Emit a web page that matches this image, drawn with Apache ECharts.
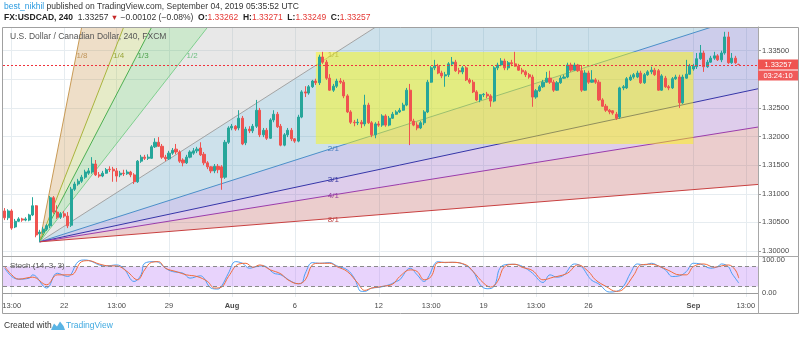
<!DOCTYPE html>
<html>
<head>
<meta charset="utf-8">
<script src="https://cdn.jsdelivr.net/npm/echarts@6/dist/echarts.min.js"></script>
<style>
html,body{margin:0;padding:0;background:#fff;}
#chart{width:800px;height:337px;}
</style>
</head>
<body>
<div id="chart"></div>
<script>
// ---------------- DATA ----------------
const opens = [
1.3070,1.3058,1.3070,1.3042,1.3052,1.3056,1.3054,1.3054,1.3063,1.3079,
1.3030,1.3033,1.3038,1.3044,1.3093,1.3068,1.3059,1.3065,1.3061,1.3045,
1.3108,1.3117,1.3122,1.3129,1.3136,1.3138,1.3152,1.3133,1.3131,1.3136,
1.3143,1.3143,1.3140,1.3133,1.3136,1.3135,1.3138,1.3133,1.3121,1.3157,
1.3164,1.3162,1.3162,1.3182,1.3190,1.3183,1.3164,1.3161,1.3171,1.3178,
1.3173,1.3159,1.3154,1.3164,1.3171,1.3175,1.3180,1.3169,1.3154,1.3147,
1.3140,1.3148,1.3147,1.3129,1.3190,1.3215,1.3218,1.3215,1.3232,1.3189,
1.3213,1.3210,1.3218,1.3246,1.3203,1.3211,1.3197,1.3229,1.3239,1.3218,
1.3185,1.3203,1.3211,1.3196,1.3192,1.3234,1.3278,1.3276,1.3287,1.3297,
1.3294,1.3339,1.3330,1.3302,1.3281,1.3288,1.3297,1.3295,1.3271,1.3243,
1.3225,1.3224,1.3225,1.3222,1.3255,1.3224,1.3203,1.3222,1.3220,1.3236,
1.3220,1.3232,1.3239,1.3243,1.3246,1.3255,1.3281,1.3227,1.3220,1.3215,
1.3224,1.3243,1.3295,1.3320,1.3323,1.3311,1.3306,1.3308,1.3327,1.3330,
1.3315,1.3313,1.3320,1.3299,1.3295,1.3278,1.3264,1.3273,1.3274,1.3271,
1.3262,1.3320,1.3325,1.3332,1.3320,1.3329,1.3327,1.3323,1.3316,1.3313,
1.3308,1.3304,1.3269,1.3280,1.3287,1.3295,1.3302,1.3295,1.3281,1.3294,
1.3302,1.3304,1.3325,1.3316,1.3325,1.3315,1.3281,1.3311,1.3295,1.3299,
1.3295,1.3264,1.3253,1.3246,1.3245,1.3239,1.3234,1.3285,1.3285,1.3299,
1.3304,1.3304,1.3311,1.3294,1.3308,1.3313,1.3316,1.3315,1.3281,1.3302,
1.3287,1.3285,1.3301,1.3304,1.3259,1.3302,1.3309,1.3318,1.3322,1.3336,
1.3346,1.3322,1.3330,1.3337,1.3341,1.3334,1.3346,1.3374,1.3329,1.3337,
1.33262];
const closes = [
1.3058,1.3070,1.3040,1.3052,1.3056,1.3054,1.3056,1.3063,1.3079,1.3028,
1.3033,1.3038,1.3044,1.3093,1.3068,1.3059,1.3065,1.3061,1.3044,1.3108,
1.3117,1.3122,1.3129,1.3138,1.3140,1.3152,1.3133,1.3131,1.3136,1.3142,
1.3142,1.3140,1.3131,1.3136,1.3135,1.3138,1.3133,1.3121,1.3157,1.3164,
1.3162,1.3164,1.3182,1.3190,1.3183,1.3164,1.3161,1.3171,1.3176,1.3173,
1.3157,1.3154,1.3164,1.3173,1.3175,1.3178,1.3168,1.3154,1.3147,1.3140,
1.3148,1.3142,1.3128,1.3190,1.3215,1.3218,1.3213,1.3232,1.3187,1.3213,
1.3210,1.3218,1.3246,1.3203,1.3211,1.3197,1.3229,1.3239,1.3217,1.3185,
1.3203,1.3211,1.3196,1.3192,1.3234,1.3278,1.3276,1.3287,1.3297,1.3294,
1.3339,1.3330,1.3302,1.3281,1.3288,1.3297,1.3295,1.3271,1.3243,1.3225,
1.3224,1.3225,1.3222,1.3255,1.3224,1.3203,1.3222,1.3220,1.3236,1.3220,
1.3232,1.3239,1.3243,1.3246,1.3255,1.3281,1.3227,1.3220,1.3215,1.3224,
1.3243,1.3295,1.3320,1.3323,1.3311,1.3306,1.3308,1.3327,1.3330,1.3315,
1.3313,1.3320,1.3299,1.3295,1.3278,1.3264,1.3273,1.3274,1.3271,1.3262,
1.3320,1.3325,1.3332,1.3320,1.3329,1.3327,1.3323,1.3316,1.3313,1.3308,
1.3304,1.3269,1.3280,1.3287,1.3295,1.3302,1.3295,1.3281,1.3294,1.3302,
1.3304,1.3325,1.3316,1.3325,1.3315,1.3281,1.3311,1.3295,1.3299,1.3295,
1.3264,1.3253,1.3246,1.3243,1.3241,1.3232,1.3285,1.3287,1.3301,1.3304,
1.3308,1.3311,1.3294,1.3308,1.3313,1.3316,1.3308,1.3281,1.3306,1.3287,
1.3285,1.3301,1.3304,1.3259,1.3304,1.3309,1.3323,1.3323,1.3336,1.3346,
1.3322,1.3330,1.3337,1.3341,1.3334,1.3346,1.3374,1.3329,1.3337,1.3329,
1.33257];
const lows = [
1.3054,1.3054,1.3037,1.3040,1.3051,1.3051,1.3052,1.3052,1.3061,1.3024,
1.3016,1.3030,1.3035,1.3040,1.3065,1.3056,1.3056,1.3058,1.3040,1.3042,
1.3105,1.3114,1.3119,1.3126,1.3133,1.3135,1.3131,1.3128,1.3129,1.3135,
1.3138,1.3121,1.3121,1.3129,1.3131,1.3133,1.3129,1.3117,1.3119,1.3154,
1.3159,1.3159,1.3161,1.3180,1.3182,1.3161,1.3157,1.3159,1.3168,1.3169,
1.3154,1.3148,1.3152,1.3162,1.3168,1.3171,1.3166,1.3150,1.3143,1.3136,
1.3136,1.3136,1.3107,1.3126,1.3187,1.3211,1.3210,1.3211,1.3185,1.3185,
1.3206,1.3206,1.3215,1.3199,1.3199,1.3194,1.3196,1.3225,1.3215,1.3183,
1.3183,1.3199,1.3192,1.3189,1.3190,1.3232,1.3269,1.3273,1.3285,1.3290,
1.3290,1.3327,1.3299,1.3280,1.3278,1.3285,1.3292,1.3267,1.3241,1.3222,
1.3218,1.3220,1.3215,1.3218,1.3222,1.3199,1.3197,1.3217,1.3217,1.3217,
1.3218,1.3231,1.3238,1.3241,1.3245,1.3253,1.3185,1.3218,1.3211,1.3213,
1.3220,1.3241,1.3294,1.3316,1.3309,1.3302,1.3287,1.3304,1.3323,1.3313,
1.3309,1.3309,1.3297,1.3292,1.3276,1.3262,1.3260,1.3269,1.3267,1.3252,
1.3260,1.3316,1.3323,1.3316,1.3316,1.3323,1.3322,1.3315,1.3309,1.3304,
1.3301,1.3252,1.3266,1.3278,1.3285,1.3294,1.3292,1.3278,1.3280,1.3292,
1.3301,1.3302,1.3313,1.3315,1.3313,1.3278,1.3280,1.3292,1.3294,1.3292,
1.3262,1.3252,1.3243,1.3239,1.3238,1.3229,1.3231,1.3281,1.3283,1.3297,
1.3301,1.3302,1.3292,1.3292,1.3306,1.3309,1.3306,1.3280,1.3280,1.3285,
1.3281,1.3283,1.3299,1.3250,1.3257,1.3301,1.3308,1.3315,1.3318,1.3334,
1.3313,1.3320,1.3329,1.3334,1.3332,1.3330,1.3343,1.3327,1.3327,1.3327,
1.33249];
const highs = [
1.3075,1.3073,1.3073,1.3056,1.3059,1.3058,1.3059,1.3065,1.3094,1.3080,
1.3037,1.3042,1.3047,1.3096,1.3096,1.3080,1.3068,1.3070,1.3068,1.3112,
1.3121,1.3126,1.3133,1.3142,1.3145,1.3164,1.3159,1.3138,1.3140,1.3145,
1.3148,1.3147,1.3145,1.3140,1.3142,1.3142,1.3140,1.3136,1.3159,1.3168,
1.3168,1.3169,1.3185,1.3197,1.3199,1.3187,1.3168,1.3175,1.3180,1.3187,
1.3176,1.3162,1.3168,1.3176,1.3180,1.3182,1.3190,1.3173,1.3157,1.3148,
1.3152,1.3152,1.3150,1.3194,1.3218,1.3222,1.3220,1.3246,1.3236,1.3217,
1.3218,1.3222,1.3264,1.3250,1.3215,1.3215,1.3232,1.3246,1.3243,1.3222,
1.3206,1.3215,1.3215,1.3197,1.3238,1.3281,1.3288,1.3290,1.3299,1.3301,
1.3343,1.3348,1.3334,1.3309,1.3292,1.3301,1.3302,1.3299,1.3274,1.3246,
1.3229,1.3231,1.3229,1.3273,1.3259,1.3227,1.3225,1.3227,1.3239,1.3239,
1.3236,1.3243,1.3246,1.3250,1.3259,1.3285,1.3292,1.3231,1.3225,1.3227,
1.3246,1.3299,1.3323,1.3334,1.3327,1.3315,1.3313,1.3330,1.3339,1.3334,
1.3320,1.3323,1.3323,1.3302,1.3299,1.3281,1.3274,1.3276,1.3278,1.3274,
1.3323,1.3329,1.3337,1.3336,1.3332,1.3334,1.3348,1.3327,1.3320,1.3316,
1.3311,1.3308,1.3283,1.3290,1.3299,1.3313,1.3315,1.3299,1.3297,1.3306,
1.3308,1.3329,1.3329,1.3329,1.3327,1.3325,1.3316,1.3315,1.3316,1.3302,
1.3299,1.3267,1.3257,1.3248,1.3246,1.3243,1.3287,1.3290,1.3304,1.3308,
1.3311,1.3315,1.3315,1.3311,1.3316,1.3322,1.3320,1.3318,1.3309,1.3306,
1.3290,1.3304,1.3308,1.3308,1.3308,1.3334,1.3327,1.3327,1.3346,1.3360,
1.3350,1.3334,1.3341,1.3348,1.3344,1.3350,1.3383,1.3383,1.3346,1.3341,
1.33271];

// Stochastic (14,3,3): %K and %D, read at the candle slots given
const kIdx = [0,2,4,7,8,12,15,18,21,23,25,27,29,32,34,37,39,40,43,44,46,48,51,53,56,57,59,61,62,64,66,68,70,72,74,77,79,82,84,85,86,88,90,93,95,98,100,102,103,105,107,110,112,113,116,118,120,121,124,126,128,131,134,136,138,140,142,145,147,149,151,154,156,158,160,163,165,167,168,170,173,175,177,179,181,183,185,187,189,191,193,195,197,199,202,204,205,207,208,209,210];
const kVal = [75,50,42,45,55,15,60,50,95,100,95,85,82,85,75,35,55,90,95,93,75,65,60,45,52,45,15,12,20,60,95,90,75,80,82,60,55,35,28,30,60,92,90,92,82,70,45,5,5,15,17,25,35,40,75,55,35,45,95,92,93,88,65,25,13,20,80,87,85,75,60,32,55,48,55,88,80,50,38,27,3,5,20,60,88,85,90,82,70,50,52,65,90,88,75,80,88,80,60,45,30];
const dIdx = [0,2,4,8,12,15,19,22,24,27,30,32,35,38,40,42,44,46,49,52,55,58,60,62,64,67,69,71,73,76,79,81,84,86,88,90,93,95,98,101,103,105,108,111,113,116,118,120,122,124,128,132,134,137,139,141,143,146,148,151,154,157,158,161,164,167,169,172,175,177,180,182,185,187,190,193,195,197,200,203,205,207,209,210];
const dVal = [80,55,42,48,25,55,55,95,98,88,82,82,65,40,70,93,95,75,65,55,50,35,15,18,50,88,90,78,85,70,58,40,28,40,85,90,90,80,65,30,8,15,20,27,50,70,65,40,50,92,93,85,65,30,18,35,80,87,78,68,40,48,50,60,85,65,40,20,5,12,55,85,87,82,68,55,55,80,88,78,82,85,70,45];

// time axis labels (4h candle slots)
const tickIdx  = [2, 17, 32, 47, 65, 83, 107, 122, 137, 152, 167, 197, 212];
const tickText = ['13:00','22','13:00','29','Aug','6','12','13:00','19','13:00','26','Sep','13:00'];
const boldTicks = ['Aug','Sep'];
const N_SLOTS = 216;

const lastClose = 1.33257;
const countdown = '03:24:10';

// Gann fan drawing (origin & 1/1 anchor) and rectangle, in data units
const fanNames = ['1/8','1/4','1/3','1/2','1/1','2/1','3/1','4/1','8/1'];
const fanOrigin = [10, 1.3016];
const fanAnchor = [94, 1.3344];
const boxSlots = [89, 197];
const boxPrices = [1.31870, 1.33477];

// ---------------- STYLE ----------------
const FONT = '"Liberation Sans", Arial, sans-serif';
const GRID_C = '#e6ecf0';
const fanLineColors  = ['#c89a55','#a9b43c','#4caf50','#7fcf8f','#a3a3a3','#4a8fc8','#3535a8','#9a3cac','#c84040'];
const fanLabelColors = ['#c0955a','#9aa63c','#4ca04c','#6cbf80','#8f8f78','#4a7fc0','#3a3aa0','#94409f','#c04848'];
const fanFills = ['rgba(198,145,72,0.30)','rgba(172,188,72,0.30)','rgba(88,178,88,0.30)','rgba(178,178,178,0.30)',
                  'rgba(88,155,188,0.30)','rgba(88,88,188,0.30)','rgba(145,88,188,0.30)','rgba(188,88,88,0.30)'];

// ---------------- BUILD ----------------
const categories = Array.from({length: N_SLOTS}, (_, i) => String(i));
const ohlc = opens.map((o, i) => [o, closes[i], lows[i], highs[i]]);
const tickMap = {};
tickIdx.forEach((t, i) => tickMap[t] = tickText[i]);
const isTick = (idx) => tickMap[idx] !== undefined;

const Y_MIN = 1.299126, Y_MAX = 1.339141;

function renderFan(params, api) {
  const o = api.coord(fanOrigin), e = api.coord(fanAnchor);
  const DX = e[0] - o[0], DY = e[1] - o[1];
  const ends = fanNames.map(n => { const [a, b] = n.split('/').map(Number); return [o[0] + DX / b, o[1] + DY / a]; });
  const far = ends.map(p => [o[0] + (p[0] - o[0]) * 15, o[1] + (p[1] - o[1]) * 15]);
  const cs = params.coordSys;
  const clipped = [];
  for (let j = 0; j < far.length - 1; j++) {
    clipped.push({type: 'polygon', shape: {points: [o, far[j], far[j + 1]]}, style: {fill: fanFills[j]}, silent: true});
  }
  far.forEach((p, j) => clipped.push({type: 'line', shape: {x1: o[0], y1: o[1], x2: p[0], y2: p[1]},
    style: {stroke: fanLineColors[j], lineWidth: 1}, silent: true}));
  const labels = ends.map((p, j) => {
    const [a, b] = fanNames[j].split('/').map(Number);
    const steep = b > 1;
    return {type: 'text', x: p[0], y: steep ? p[1] + 2 : p[1] + 1, silent: true,
      style: {text: fanNames[j], fill: fanLabelColors[j], fontSize: 8, fontFamily: FONT, align: steep ? 'left' : 'center', verticalAlign: 'middle'}};
  });
  return {type: 'group', children: [
    {type: 'group', clipPath: {type: 'rect', shape: {x: cs.x, y: cs.y, width: cs.width, height: cs.height}}, children: clipped},
    ...labels]};
}
function renderBox(params, api) {
  const p1 = api.coord([boxSlots[0], boxPrices[1]]), p2 = api.coord([boxSlots[1], boxPrices[0]]);
  return {type: 'rect', shape: {x: p1[0], y: p1[1], width: p2[0] - p1[0], height: p2[1] - p1[1]},
    style: {fill: 'rgba(255,250,0,0.45)'}, silent: true};
}
function renderLastLine(params, api) {
  const cs = params.coordSys;
  const y = Math.round(api.coord([0, api.value(1)])[1]) + 0.5;
  return {type: 'line', shape: {x1: cs.x, y1: y, x2: cs.x + cs.width, y2: y},
    style: {stroke: '#f0323c', lineWidth: 1, lineDash: [2, 2], fill: null}, silent: true};
}

const chart = echarts.init(document.getElementById('chart'), null, {renderer: 'canvas'});
const option = {
  animation: false,
  backgroundColor: '#ffffff',
  textStyle: {fontFamily: FONT},
  grid: [
    {left: 3, top: 27, width: 755, height: 229, containLabel: false, outerBoundsMode: 'none'},
    {left: 3, top: 256, width: 755, height: 41, containLabel: false, outerBoundsMode: 'none'}
  ],
  xAxis: [
    {gridIndex: 0, type: 'category', data: categories, boundaryGap: true,
     axisLine: {show: false}, axisTick: {show: false}, axisLabel: {show: false},
     splitLine: {show: true, interval: isTick, alignWithLabel: true, lineStyle: {color: GRID_C, width: 1}}},
    {gridIndex: 1, type: 'category', data: categories, boundaryGap: true,
     axisLine: {show: true, lineStyle: {color: '#9b9b9b'}}, axisTick: {show: false},
     axisLabel: {show: true, interval: isTick, margin: 5, fontSize: 7.5, color: '#4a4a4a',
       formatter: (v, i) => { const t = tickMap[i] || ''; return boldTicks.includes(t) ? '{b|' + t + '}' : t; },
       rich: {b: {fontWeight: 'bold', fontSize: 7.5, color: '#4a4a4a'}}},
     splitLine: {show: true, interval: isTick, alignWithLabel: true, lineStyle: {color: GRID_C, width: 1}}}
  ],
  yAxis: [
    {gridIndex: 0, type: 'value', position: 'right', min: Y_MIN, max: Y_MAX, splitNumber: 8, scale: true,
     axisLine: {show: true, lineStyle: {color: '#9b9b9b'}},
     axisTick: {show: true, length: 3, lineStyle: {color: '#9b9b9b'}},
     axisLabel: {fontSize: 7.5, color: '#4a4a4a', margin: 4, showMinLabel: false, showMaxLabel: false,
       formatter: v => (Math.abs(v - 1.33) < 1e-7 ? '' : v.toFixed(5))},
     splitLine: {show: true, lineStyle: {color: GRID_C, width: 1}}},
    {gridIndex: 1, type: 'value', position: 'right', min: -12.1, max: 112.1, splitNumber: 5,
     axisLine: {show: true, lineStyle: {color: '#9b9b9b'}}, axisTick: {show: false},
     axisLabel: {fontSize: 7.5, color: '#4a4a4a', margin: 4, showMinLabel: false, showMaxLabel: false,
       formatter: v => (Math.abs(v) < 1e-7 ? '0.00' : (Math.abs(v - 100) < 1e-7 ? '100.00' : ''))},
     splitLine: {show: false}}
  ],
  series: [
    {type: 'custom', name: 'Gann fan', xAxisIndex: 0, yAxisIndex: 0, renderItem: renderFan,
     data: [[fanOrigin[0], fanOrigin[1]]], z: 1, silent: true},
    {type: 'custom', name: 'Rectangle', xAxisIndex: 0, yAxisIndex: 0, renderItem: renderBox,
     data: [[boxSlots[0], boxPrices[0]]], z: 2, silent: true},
    {type: 'candlestick', name: 'USDCAD', xAxisIndex: 0, yAxisIndex: 0, data: ohlc, z: 3, barWidth: 2.6,
     itemStyle: {color: '#26a69a', color0: '#ef5350', borderColor: '#26a69a', borderColor0: '#ef5350', borderWidth: 1}},
    {type: 'custom', name: 'Last price', xAxisIndex: 0, yAxisIndex: 0, renderItem: renderLastLine,
     data: [[0, lastClose]], z: 4, silent: true},
    {type: 'line', name: '%K', xAxisIndex: 1, yAxisIndex: 1, data: kIdx.map((x, i) => [x, kVal[i]]),
     smooth: 0.4, showSymbol: false, lineStyle: {color: '#4a9ff5', width: 1}, z: 3,
     markArea: {silent: true, itemStyle: {color: 'rgba(190,130,245,0.35)'}, data: [[{yAxis: 20}, {yAxis: 80}]]},
     markLine: {silent: true, symbol: 'none', label: {show: false},
       lineStyle: {color: '#8a8a8a', type: [4, 3], width: 1}, data: [{yAxis: 80}, {yAxis: 20}]}},
    {type: 'line', name: '%D', xAxisIndex: 1, yAxisIndex: 1, data: dIdx.map((x, i) => [x, dVal[i]]),
     smooth: 0.4, showSymbol: false, lineStyle: {color: '#f26b3a', width: 1}, z: 3}
  ]
};
chart.setOption(option);

// decorations: header, frame, last-price tag, footer
const yTag = chart.convertToPixel({yAxisIndex: 0}, lastClose);
const F85 = {fontSize: 8.5, fontFamily: FONT};
chart.setOption({
  graphic: [
    {type: 'text', x: 4, y: 7, z: 50, style: Object.assign({text: '{u|best_nikhil} published on TradingView.com, September 04, 2019 05:35:52 UTC',
      fill: '#333', verticalAlign: 'middle', rich: {u: Object.assign({fill: '#2a9be0'}, F85)}}, F85)},
    {type: 'text', x: 4, y: 18, z: 50, style: Object.assign({
      text: '{b|FX:USDCAD, 240}  1.33257 {r|▼} −0.00102 (−0.08%)  {b|O:}{v|1.33262}  {b|H:}{v|1.33271}  {b|L:}{v|1.33249}  {b|C:}{v|1.33257}',
      fill: '#333', verticalAlign: 'middle',
      rich: {b: Object.assign({fontWeight: 'bold', fill: '#222'}, F85), r: {fill: '#c62828', fontSize: 7.5, fontFamily: FONT},
             v: Object.assign({fill: '#e53935'}, F85)}}, F85)},
    {type: 'rect', z: 40, shape: {x: 2.5, y: 27.5, width: 796, height: 286}, style: {fill: 'none', stroke: '#a0a0a0', lineWidth: 1}},
    {type: 'line', z: 40, shape: {x1: 3, y1: 256.5, x2: 799, y2: 256.5}, style: {stroke: '#a8a8a8', lineWidth: 1}},
    {type: 'line', z: 40, shape: {x1: 758.5, y1: 27, x2: 758.5, y2: 314}, style: {stroke: '#a8a8a8', lineWidth: 1}},
    {type: 'text', x: 10, y: 37, z: 50, style: {text: 'U.S. Dollar / Canadian Dollar, 240, FXCM', fontSize: 8.5, fontFamily: FONT, fill: '#555', verticalAlign: 'middle'}},
    {type: 'text', x: 10, y: 266, z: 50, style: {text: 'Stoch (14, 3, 3)', fontSize: 8, fontFamily: FONT, fill: '#555', verticalAlign: 'middle'}},
    {type: 'rect', z: 60, shape: {x: 758, y: yTag - 5, width: 40, height: 10}, style: {fill: '#ef5350'}},
    {type: 'text', z: 61, x: 778, y: yTag, style: {text: lastClose.toFixed(5), fontSize: 7.5, fontFamily: FONT, fill: '#fff', align: 'center', verticalAlign: 'middle'}},
    {type: 'rect', z: 60, shape: {x: 758, y: yTag + 6, width: 40, height: 10}, style: {fill: '#f05a5a'}},
    {type: 'text', z: 61, x: 778, y: yTag + 11, style: {text: countdown, fontSize: 7.5, fontFamily: FONT, fill: '#fff', align: 'center', verticalAlign: 'middle'}},
    {type: 'text', x: 4, y: 326, z: 50, style: {text: 'Created with', fontSize: 8.5, fontFamily: FONT, fill: '#333', verticalAlign: 'middle'}},
    {type: 'polygon', z: 50, shape: {points: [[51,330],[54,323.5],[57,326.5],[60,321.5],[63.5,326],[65,330]]}, style: {fill: '#5ab4e4'}},
    {type: 'text', x: 66, y: 326, z: 50, style: {text: 'TradingView', fontSize: 8.5, fontFamily: FONT, fill: '#3fa9e0', verticalAlign: 'middle'}}
  ]
});
</script>
</body>
</html>
